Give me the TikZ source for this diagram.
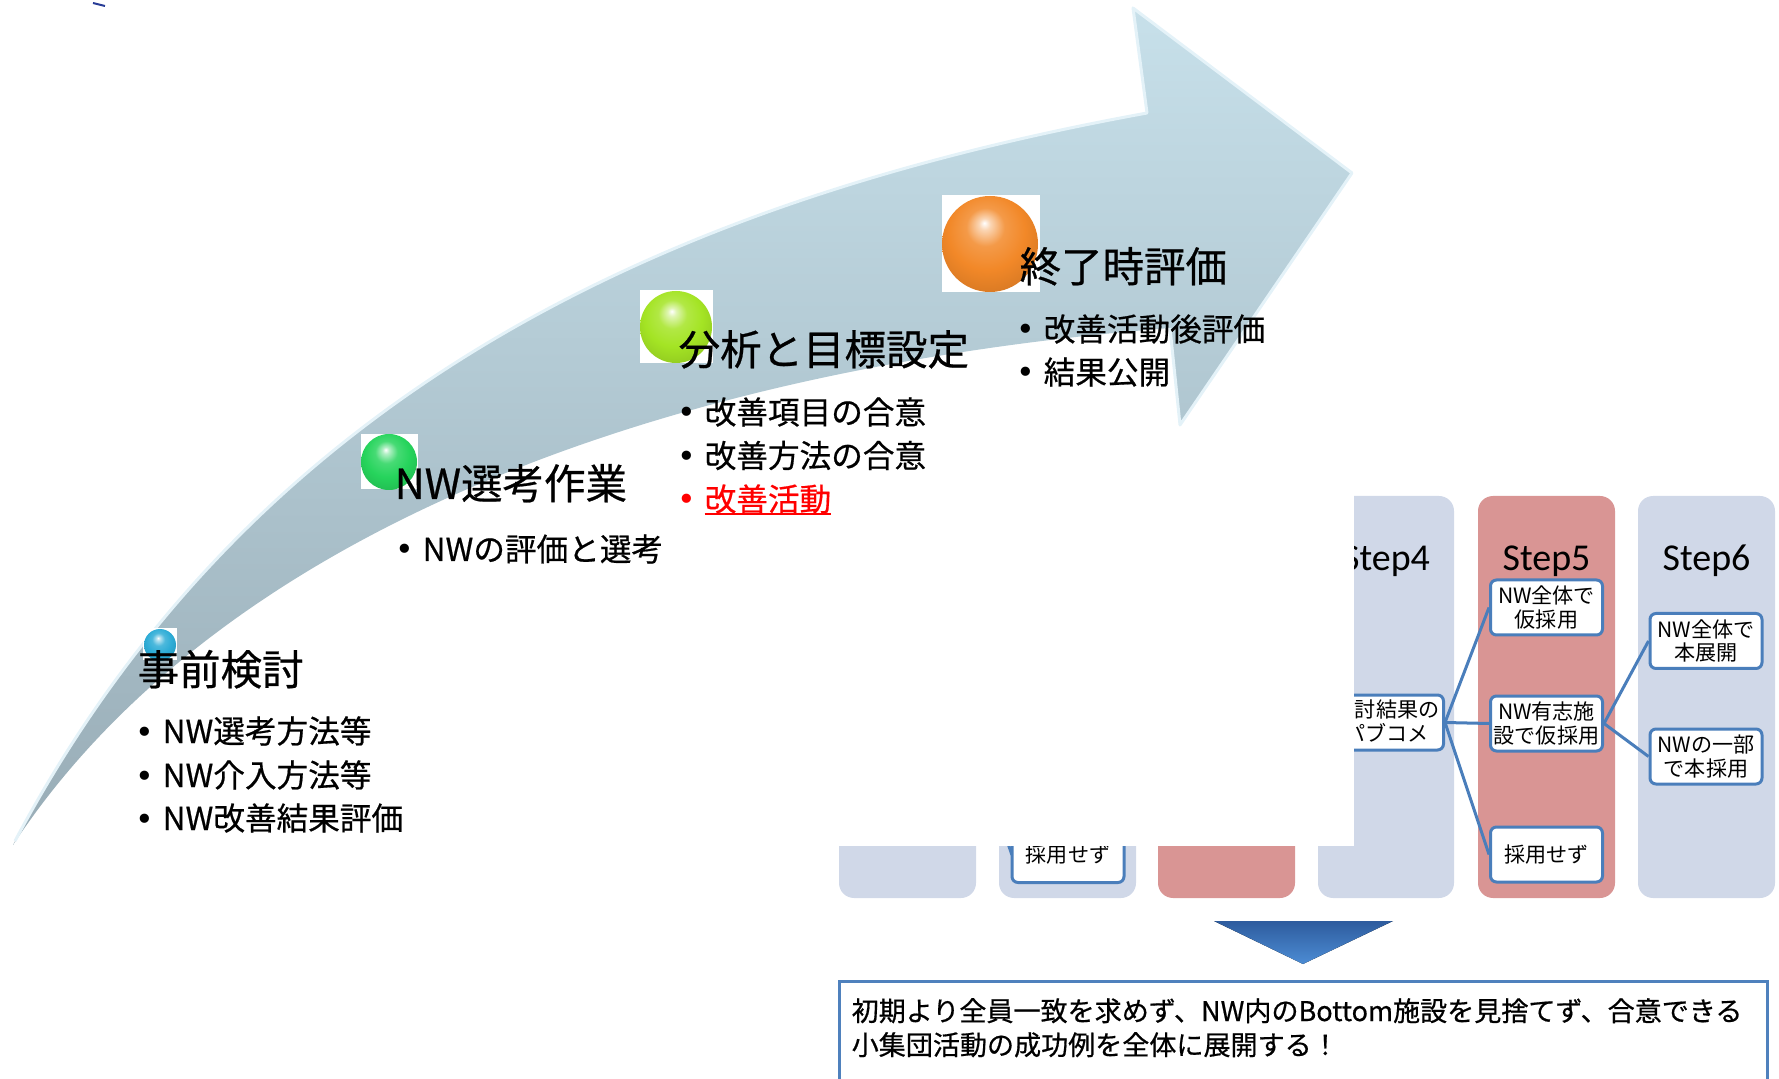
\documentclass[tikz,border=0pt]{standalone}
\usepackage{fontspec}
\setmainfont{Noto Sans CJK JP}
\newfontfamily\headfont[FakeBold=0.6]{Noto Sans CJK JP}
\newfontfamily\calibfont{Carlito}
\newfontfamily\dotfont{DejaVu Sans}

% colours
\definecolor{arrowtop}{RGB}{199,224,234}
\definecolor{arrowbot}{RGB}{152,172,182}
\definecolor{arrowedge}{RGB}{228,242,248}
\definecolor{colblue}{RGB}{208,216,232}
\definecolor{colred}{RGB}{217,149,148}
\definecolor{boxline}{RGB}{74,126,187}
\definecolor{tritop}{RGB}{46,92,158}
\definecolor{tribot}{RGB}{76,140,212}
\definecolor{noteline}{RGB}{79,129,189}
\definecolor{ballcyan}{RGB}{45,172,214}
\definecolor{ballgreen}{RGB}{38,212,92}
\definecolor{balllime}{RGB}{164,228,36}
\definecolor{ballorange}{RGB}{242,136,40}
\definecolor{markblue}{RGB}{40,60,150}

% glossy sphere shading, tinted by ballc
\colorlet{ballc}{ballcyan}
\pgfdeclareradialshading[ballc]{glossy}{\pgfqpoint{-3bp}{11bp}}{%
  color(0bp)=(white);
  color(3bp)=(ballc!35!white);
  color(10bp)=(ballc!85!white);
  color(20bp)=(ballc);
  color(28bp)=(ballc!92!black);
  color(35bp)=(ballc!84!black);
  color(50bp)=(ballc!80!black)}

\newcommand\itemdot{\makebox[2.7mm][l]{\dotfont •}}
\newcommand\redrule[1]{\setbox0\hbox{#1}\rlap{\rule[-1.2pt]{\wd0}{0.7pt}}\box0}

\begin{document}
\begin{tikzpicture}[x=0.1mm, y={(0,-0.1mm)},
  heading/.style={anchor=base west, inner sep=0pt, font=\headfont\fontsize{11.8}{14}\selectfont},
  item/.style={anchor=base west, inner sep=0pt, font=\headfont\fontsize{9}{11}\selectfont},
  steplabel/.style={anchor=base, inner sep=0pt, font=\calibfont\fontsize{10.8}{13}\selectfont},
  column/.style={fill=colblue, rounded corners=1.5mm},
  redcolumn/.style={fill=colred, rounded corners=1.5mm},
  stepbox/.style={draw=boxline, line width=0.3mm, fill=white, rounded corners=0.6mm,
    minimum width=11.2mm, minimum height=5.5mm, inner sep=0pt, align=center,
    font=\fontsize{6}{6.6}\selectfont},
  boxtext/.style={anchor=base east, inner sep=0pt, font=\fontsize{6}{6.6}\selectfont},
  link/.style={draw=boxline, line width=0.3mm},
  notetext/.style={anchor=base west, inner sep=0pt, font=\headfont\fontsize{7.7}{9}\selectfont},
  backdrop/.style={fill=white},
  balltint/.code={\colorlet{ballc}{#1}},
  ball/.style={circle, inner sep=0pt, minimum size=#1, shade, shading=glossy},
  bevel/.style={draw=arrowedge, line width=0.3mm, line join=round},
]
\useasboundingbox (0,0) rectangle (1779,1079);
\clip (0,0) rectangle (1779,1079);

% ---- step columns ----
\path[column]    (839,496)  rectangle (976,898);
\path[column]    (999,496)  rectangle (1136,898);
\path[redcolumn] (1158,496) rectangle (1295,898);
\path[column]    (1318,496) rectangle (1454,898);
\path[redcolumn] (1478,496) rectangle (1615,898);
\path[column]    (1638,496) rectangle (1775,898);

\node[steplabel] (lab4) at (1386,570)   {Step4};
\node[steplabel] (lab5) at (1546.5,570) {Step5};
\node[steplabel] (lab6) at (1706.5,570) {Step6};

\coordinate (c1out) at (966,723);
\draw[link] (c1out) -- (1012,855);
\node[stepbox] (c2no) at (1068,855) {採用せず};

\node[stepbox] (s4) at (1387.5,722.5) {};
\node[boxtext] (s4a) at (1440,718)   {討結果の};
\node[boxtext] (s4b) at (1429.5,741) {パブコメ};
\node[stepbox] (s5a) at (1546.5,607.5) {NW全体で\\仮採用};
\node[stepbox] (s5b) at (1546.5,723.5) {NW有志施\\設で仮採用};
\node[stepbox] (s5c) at (1546.5,854.5) {採用せず};
\node[stepbox] (s6a) at (1706,641)     {NW全体で\\本展開};
\node[stepbox] (s6b) at (1706,756.5)   {NWの一部\\で本採用};

\draw[link] (s4.east) -- (s5a.west);
\draw[link] (s4.east) -- (s5b.west);
\draw[link] (s4.east) -- (s5c.west);
\draw[link] (s5b.east) -- (s6a.west);
\draw[link] (s5b.east) -- (s6b.west);

% white backing of the arrow graphic
\fill[white] (830,470) rectangle (1354,846);

% ---- conclusion ----
\fill[top color=tritop, bottom color=tribot] (1214,921) -- (1393,921) -- (1303,964) -- cycle;
\draw[noteline, line width=0.3mm, fill=white] (839,981) rectangle (1767,1100);
\node[notetext] (n1) at (851,1021) {初期より全員一致を求めず、NW内のBottom施設を見捨てず、合意できる};
\node[notetext] (n2) at (851,1055) {小集団活動の成功例を全体に展開する！};

% ---- curved process arrow ----
\path[top color=arrowtop, bottom color=arrowbot]
  (13,845) .. controls (257,386) and (675,199) .. (1147,113)
  -- (1133,8) -- (1352,173) -- (1180,425) -- (1170,328)
  .. controls (620,372) and (205,553) .. (13,845) -- cycle;
% light bevel along the upper side and the head
\path[bevel]
  (15,841) .. controls (257,386) and (675,199) .. (1147,113)
  -- (1133,8) -- (1352,173) -- (1180,425) -- (1170,328);

\draw[markblue, line width=0.2mm] (93,3) -- (105,6);

% ---- phase markers ----
\fill[backdrop] (143,628) rectangle (177,660);
\node[balltint=ballcyan, ball=3.2mm] (b1) at (160,645) {};
\fill[backdrop] (361,434) rectangle (418,489);
\node[balltint=ballgreen, ball=5.6mm] (b2) at (389,462) {};
\fill[backdrop] (640,290) rectangle (713,363);
\node[balltint=balllime, ball=7.2mm] (b3) at (676,327) {};
\fill[backdrop] (942,195) rectangle (1040,292);
\node[balltint=ballorange, ball=9.6mm] (b4) at (990,244) {};

% ---- phase texts ----
\node[heading] (h1) at (137,685) {事前検討};
\node[item] (h1a) at (135,743) {\itemdot NW選考方法等};
\node[item] (h1b) at (135,787) {\itemdot NW介入方法等};
\node[item] (h1c) at (135,830) {\itemdot NW改善結果評価};

\node[heading] (h2) at (394,499) {NW選考作業};
\node[item] (h2a) at (395,561) {\itemdot NWの評価と選考};

\node[heading] (h3) at (678,365) {分析と目標設定};
\node[item] (h3a) at (677,424)   {\itemdot 改善項目の合意};
\node[item] (h3b) at (677,467.5) {\itemdot 改善方法の合意};
\node[item, text=red] (h3c) at (677,511) {\itemdot\redrule{改善活動}};

\node[heading] (h4) at (1019,282) {終了時評価};
\node[item] (h4a) at (1016,341) {\itemdot 改善活動後評価};
\node[item] (h4b) at (1016,384) {\itemdot 結果公開};
\end{tikzpicture}
\end{document}
